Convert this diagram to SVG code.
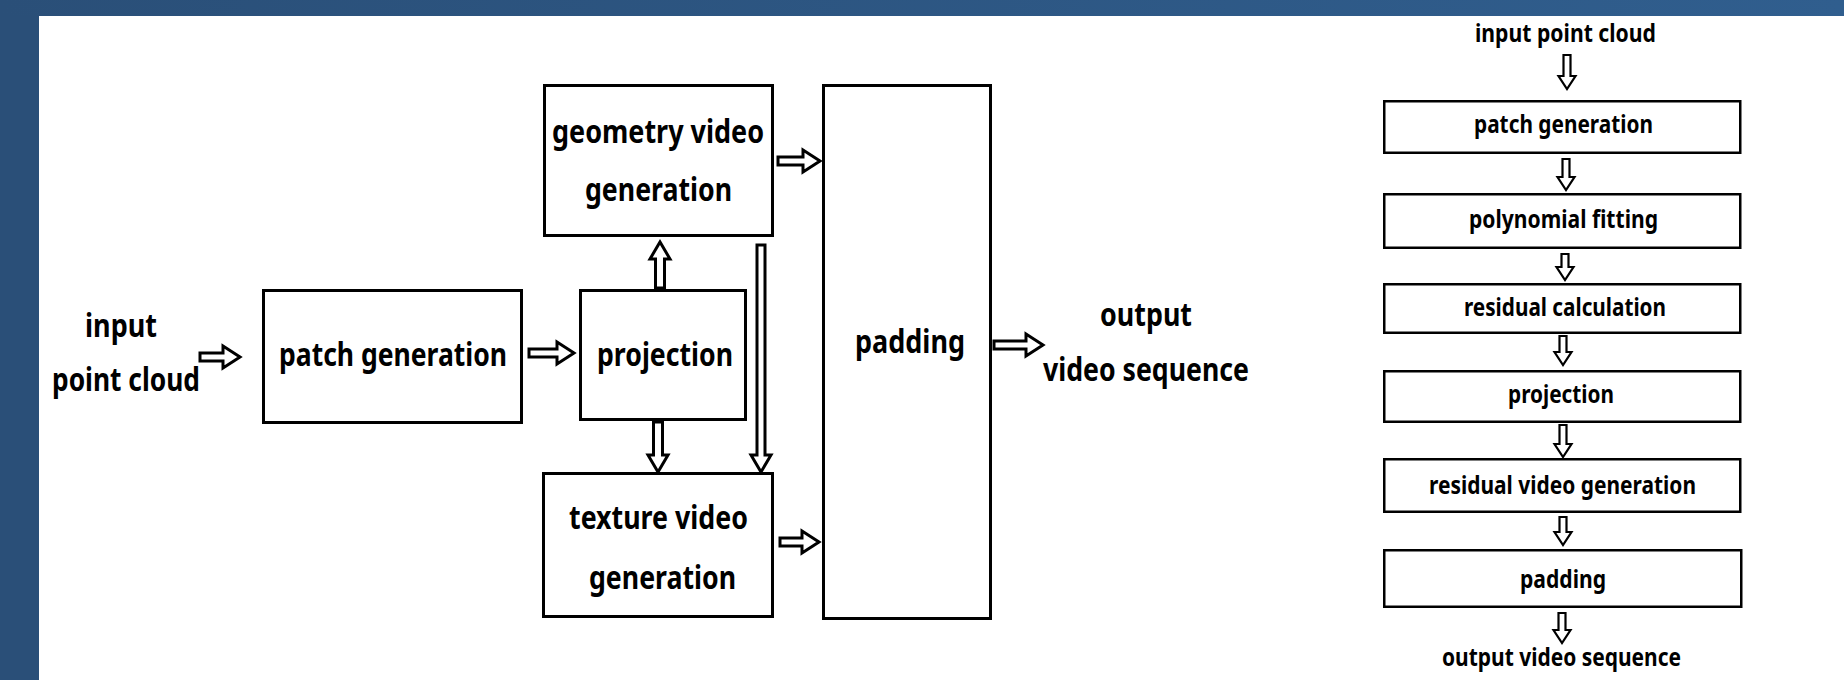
<svg xmlns="http://www.w3.org/2000/svg" width="1844" height="680" viewBox="0 0 1844 680">
<style>
.box{fill:#fff;stroke:#000;stroke-width:3}
.rbox{fill:#fff;stroke:#000;stroke-width:2.5}
.arr{fill:#fff;stroke:#000;stroke-width:3;stroke-linejoin:miter}
.rarr{fill:#fff;stroke:#000;stroke-width:2.2;stroke-linejoin:miter}
text{font-family:"Noto Sans","Open Sans","Liberation Sans",sans-serif;font-weight:bold;fill:#000}
.l{font-size:33px}
.r{font-size:25px}
</style>
<defs>
<linearGradient id="bg" x1="0" y1="0" x2="1" y2="0">
<stop offset="0" stop-color="#2a4f78"/>
<stop offset="1" stop-color="#305e8e"/>
</linearGradient>
</defs>
<rect x="0" y="0" width="1844" height="680" fill="url(#bg)"/>
<rect x="0" y="16" width="39" height="664" fill="#2a4f78"/>
<rect x="39" y="16" width="1805" height="664" fill="#fff"/>

<g id="label-input">
<text class="l" x="85" y="337" textLength="72" lengthAdjust="spacingAndGlyphs">input</text>
<text class="l" x="52" y="391" textLength="148" lengthAdjust="spacingAndGlyphs">point cloud</text>
</g>
<g id="node-patch">
<rect class="box" x="263.5" y="290.5" width="258" height="132"/>
<text class="l" x="279" y="366" textLength="228" lengthAdjust="spacingAndGlyphs">patch generation</text>
</g>
<g id="node-projection">
<rect class="box" x="580.5" y="290.5" width="165" height="129"/>
<text class="l" x="597" y="366" textLength="136" lengthAdjust="spacingAndGlyphs">projection</text>
</g>
<g id="node-geometry">
<rect class="box" x="544.5" y="85.5" width="228" height="150"/>
<text class="l" x="552" y="143" textLength="212" lengthAdjust="spacingAndGlyphs">geometry video</text>
<text class="l" x="585" y="201" textLength="147" lengthAdjust="spacingAndGlyphs">generation</text>
</g>
<g id="node-texture">
<rect class="box" x="543.5" y="473.5" width="229" height="143"/>
<text class="l" x="569" y="529" textLength="179" lengthAdjust="spacingAndGlyphs">texture video</text>
<text class="l" x="589" y="589" textLength="147" lengthAdjust="spacingAndGlyphs">generation</text>
</g>
<g id="node-padding">
<rect class="box" x="823.5" y="85.5" width="167" height="533"/>
<text class="l" x="855" y="353" textLength="110" lengthAdjust="spacingAndGlyphs">padding</text>
</g>
<g id="label-output">
<text class="l" x="1100" y="326" textLength="92" lengthAdjust="spacingAndGlyphs">output</text>
<text class="l" x="1043" y="381" textLength="206" lengthAdjust="spacingAndGlyphs">video sequence</text>
</g>

<g id="r-input"><text class="r" x="1475" y="42" textLength="181" lengthAdjust="spacingAndGlyphs">input point cloud</text></g>
<g id="r-patch">
<rect class="rbox" x="1384.25" y="101.25" width="356" height="51.5"/>
<text class="r" x="1474" y="133" textLength="179" lengthAdjust="spacingAndGlyphs">patch generation</text>
</g>
<g id="r-poly">
<rect class="rbox" x="1384.25" y="194.25" width="356" height="53.5"/>
<text class="r" x="1469" y="228" textLength="189" lengthAdjust="spacingAndGlyphs">polynomial fitting</text>
</g>
<g id="r-resid">
<rect class="rbox" x="1384.25" y="284.25" width="356" height="48.5"/>
<text class="r" x="1464" y="316" textLength="202" lengthAdjust="spacingAndGlyphs">residual calculation</text>
</g>
<g id="r-proj">
<rect class="rbox" x="1384.25" y="371.25" width="356" height="50.5"/>
<text class="r" x="1508" y="403" textLength="106" lengthAdjust="spacingAndGlyphs">projection</text>
</g>
<g id="r-rvg">
<rect class="rbox" x="1384.25" y="459.25" width="356" height="52.5"/>
<text class="r" x="1429" y="494" textLength="267" lengthAdjust="spacingAndGlyphs">residual video generation</text>
</g>
<g id="r-pad">
<rect class="rbox" x="1384.25" y="550.25" width="357" height="56.5"/>
<text class="r" x="1520" y="588" textLength="86" lengthAdjust="spacingAndGlyphs">padding</text>
</g>
<g id="r-output"><text class="r" x="1442" y="666" textLength="239" lengthAdjust="spacingAndGlyphs">output video sequence</text></g>

<g id="connectors">
<path class="arr" d="M200,353 H223 V346 L240,357 L223,368 V361 H200 Z"/>
<path class="arr" d="M529,349 H557 V342 L574,353 L557,364 V357 H529 Z"/>
<path class="arr" d="M778,157 H803 V150 L820,161 L803,172 V165 H778 Z"/>
<path class="arr" d="M780,538 H802 V531 L819,542 L802,553 V546 H780 Z"/>
<path class="arr" d="M994,341 H1026 V334 L1043,345 L1026,356 V349 H994 Z"/>
<path class="arr" d="M655.5,288 V259 H650 L660,242 L670,259 H664.5 V288 Z"/>
<path class="arr" d="M653.5,422 V455 H648 L658,472 L668,455 H662.5 V422 Z"/>
<path class="arr" d="M757,245 V455 H751 L761,472 L771,455 H765 V245 Z"/>

<path class="rarr" d="M1563.5,55 V76 H1558.5 L1567,89 L1575.5,76 H1570.5 V55 Z"/>
<path class="rarr" d="M1562.5,159 V177 H1557.5 L1566,190 L1574.5,177 H1569.5 V159 Z"/>
<path class="rarr" d="M1561.5,254 V267 H1556.5 L1565,280 L1573.5,267 H1568.5 V254 Z"/>
<path class="rarr" d="M1559.5,336 V352 H1554.5 L1563,365 L1571.5,352 H1566.5 V336 Z"/>
<path class="rarr" d="M1559.5,425 V444 H1554.5 L1563,457 L1571.5,444 H1566.5 V425 Z"/>
<path class="rarr" d="M1559.5,517 V532 H1554.5 L1563,545 L1571.5,532 H1566.5 V517 Z"/>
<path class="rarr" d="M1558.5,613 V630 H1553.5 L1562,643 L1570.5,630 H1565.5 V613 Z"/>
</g>
</svg>
